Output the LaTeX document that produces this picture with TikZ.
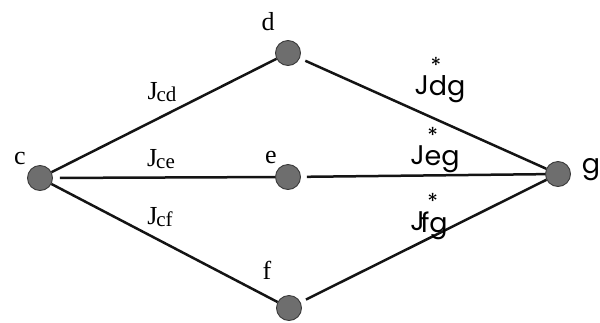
\documentclass[tikz,border=0pt]{standalone}
\usepackage{fontspec}
\newfontfamily\sansf{Poppins}
\newfontfamily\seriff{Liberation Serif}
\definecolor{nodegray}{HTML}{6E6E6E}
\definecolor{nodeborder}{HTML}{3A3A3A}
\newcommand{\jstar}[1]{\makebox[0pt][l]{\hspace{#1}\raisebox{21pt}{\fontsize{22}{22}\selectfont *}}}
\begin{document}
\begin{tikzpicture}[x=1pt,y=-1pt,
  vertex/.style={circle,fill=nodegray,draw=nodeborder,line width=0.9pt,minimum size=25pt,inner sep=0pt},
  edge/.style={line width=2.5pt,black!92},
  lbl/.style={font=\seriff\fontsize{26}{26}\selectfont,inner sep=0pt},
  js/.style={font=\sansf\fontsize{27}{27}\selectfont,inner sep=0pt}
]
\useasboundingbox (0,0) rectangle (600,322);
% vertices
\node[vertex] (c) at (40,178) {};
\node[vertex] (d) at (288,53) {};
\node[vertex] (e) at (288,177) {};
\node[vertex] (f) at (289,308) {};
\node[vertex] (g) at (558,174) {};
% vertex labels
\node[lbl] (lc) at (20,158) {c};
\node[lbl] (ld) at (268,22) {d};
\node[lbl] (le) at (271,157) {e};
\node[lbl] (lf) at (267,270) {f};
\node[js]  (lg) at (591,170) {g};
% edges
\draw[edge] (c) -- (d);
\draw[edge,shorten <=7pt] (c) -- (e);
\draw[edge] (c) -- (f);
\draw[edge,shorten <=6pt] (d) -- (g);
\draw[edge,shorten <=6pt] (e) -- (g);
\draw[edge,shorten <=6pt] (f) -- (g);
% edge labels (left)
\node[lbl] (jcd) at (162,92) {J{\fontsize{21}{21}\selectfont\raisebox{-2pt}{\kern-1pt cd}}};
\node[lbl] (jce) at (161,159) {J{\fontsize{21}{21}\selectfont\raisebox{-2pt}{\kern-1pt ce}}};
\node[lbl] (jcf) at (160,217) {J{\fontsize{21}{21}\selectfont\raisebox{-2pt}{\kern-1pt cf}}};
% edge labels (right), star above
\node[js,anchor=base] (jdg) at (440,94) {\jstar{16pt}J\raisebox{-1pt}{dg}};
\node[js,anchor=base] (jeg) at (435,164) {\jstar{17pt}J\raisebox{-1pt}{eg}};
\node[js,anchor=base] (jfg) at (429,230) {\jstar{17pt}J\raisebox{-2pt}{\kern-4pt fg}};
\end{tikzpicture}
\end{document}
